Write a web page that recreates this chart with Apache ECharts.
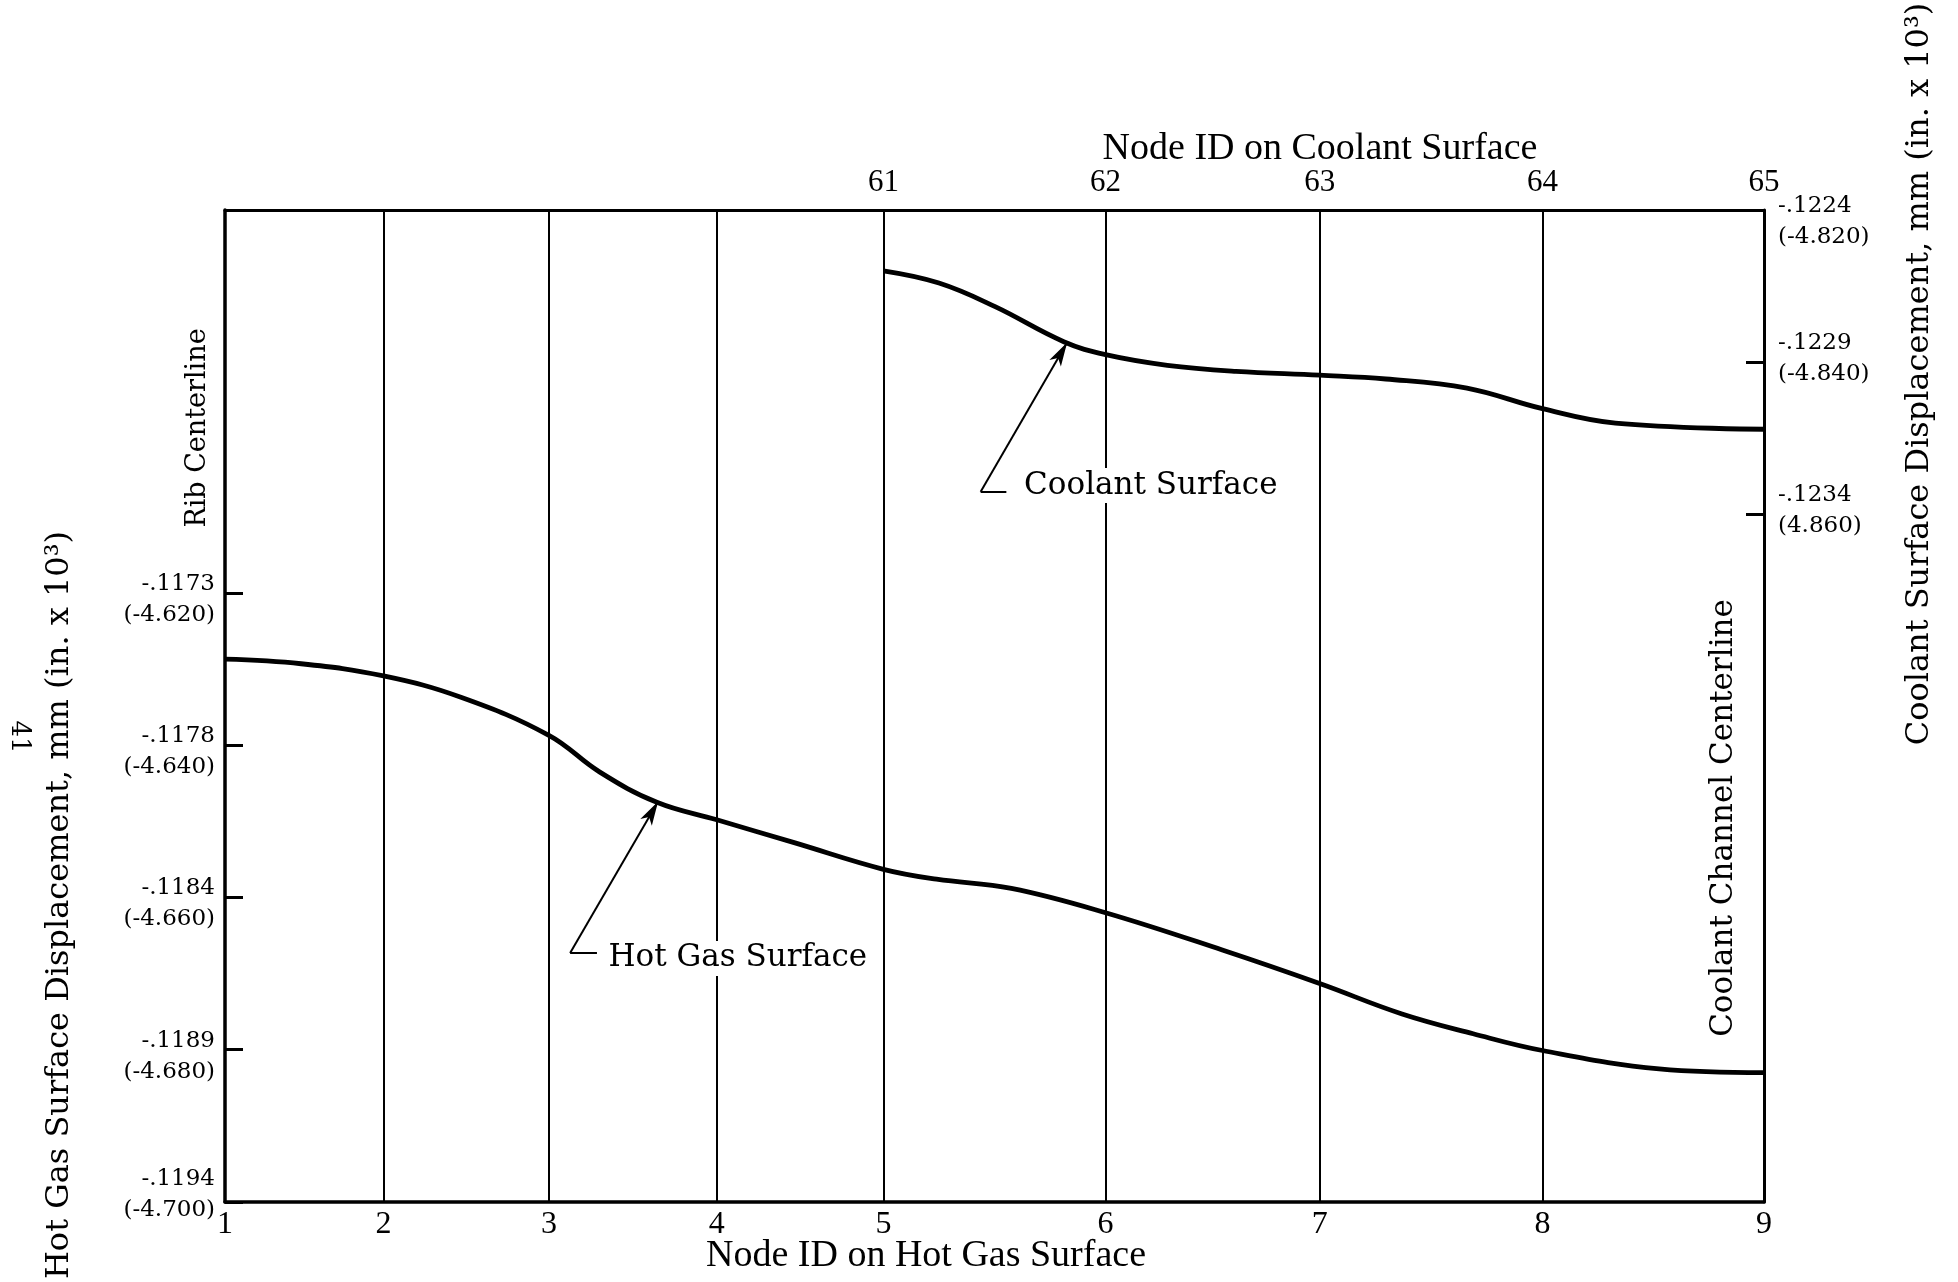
<!DOCTYPE html>
<html>
<head>
<meta charset="UTF-8"/>
<title>Surface displacement</title>
<script src="https://cdn.jsdelivr.net/npm/echarts@6.0.0/dist/echarts.min.js"></script>
<style>
html, body { margin:0; padding:0; background:#fff; }
#main { width:1958px; height:1282px; }
</style>
</head>
<body>
<div id="main"></div>
<script>
// node positions along the surface (drawing units, rib centerline = 0)
var nodeX = [0, 127, 259.5, 394, 527.5, 705.5, 877, 1055.5, 1233];
var hotNodes = ['1', '2', '3', '4', '5', '6', '7', '8', '9'];
var coolNodes = ['61', '62', '63', '64', '65']; // sit on nodeX[4..8]

// hot gas surface displacement, in. x 10^3
var hotX = [0, 61, 127, 189, 259.5, 300, 346, 394, 456, 527.5, 570, 630, 705.5, 799, 877, 943, 1000, 1055.5, 1149, 1233];
var hotY = [-4.6287, -4.6293, -4.6309, -4.6337, -4.6387, -4.6435, -4.6475, -4.6498, -4.6528, -4.6563,
            -4.6576, -4.6588, -4.6620, -4.6669, -4.6713, -4.6753, -4.6779, -4.6801, -4.6825, -4.6830];

// coolant surface displacement, in. x 10^3
var coolX = [527.5, 572, 617, 672, 705.5, 755, 810, 877, 930, 995, 1055.5, 1114, 1233];
var coolY = [-4.8280, -4.8296, -4.8327, -4.8373, -4.8390, -4.8404, -4.8412, -4.8417, -4.8422, -4.8434,
             -4.8461, -4.8480, -4.8488];

// tick labels: mm on top, inches x 10^3 in brackets
var hotTicks = [-4.700, -4.680, -4.660, -4.640, -4.620];
var hotTickMm = ['-.1194', '-.1189', '-.1184', '-.1178', '-.1173'];
var hotTickIn = ['(-4.700)', '(-4.680)', '(-4.660)', '(-4.640)', '(-4.620)'];
var coolTicks = [-4.820, -4.840, -4.860];
var coolTickMm = ['-.1224', '-.1229', '-.1234'];
var coolTickIn = ['(-4.820)', '(-4.840)', '(4.860)'];

function pairs(xs, ys) {
    var out = [];
    for (var i = 0; i < xs.length; i++) out.push([xs[i], ys[i]]);
    return out;
}
function findIdx(arr, v) {
    for (var i = 0; i < arr.length; i++) {
        if (Math.abs(arr[i] - v) < 1e-6) return i;
    }
    return -1;
}

var serifW = 'DejaVu Serif';
var serifN = 'Liberation Serif';
var black = '#000';

var myChart = echarts.init(document.getElementById('main'));

var option = {
    animation: false,
    backgroundColor: '#fff',
    grid: { left: 225, right: 194, top: 210, bottom: 80, containLabel: false },
    xAxis: [{
        type: 'value', position: 'bottom', min: 0, max: 1233,
        axisLine: { show: true, onZero: false, lineStyle: { color: black, width: 3.5 } },
        axisTick: { show: false },
        splitLine: { show: false },
        axisLabel: {
            customValues: nodeX, margin: 7,
            fontFamily: serifN, fontSize: 32, color: black,
            formatter: function (v) { var i = findIdx(nodeX, v); return i < 0 ? '' : hotNodes[i]; }
        }
    }, {
        type: 'value', position: 'top', min: 0, max: 1233,
        axisLine: { show: true, onZero: false, lineStyle: { color: black, width: 3 } },
        axisTick: { show: false },
        splitLine: { show: false },
        axisLabel: {
            customValues: nodeX.slice(4), margin: 12,
            fontFamily: serifN, fontSize: 31, color: black,
            formatter: function (v) { var i = findIdx(nodeX, v); return i < 4 ? '' : coolNodes[i - 4]; }
        }
    }],
    yAxis: [{
        type: 'value', position: 'left', min: -4.700, max: -4.5697,
        axisLine: { show: true, onZero: false, lineStyle: { color: black, width: 3.5 } },
        axisTick: { show: true, inside: true, length: 18, customValues: hotTicks, lineStyle: { color: black, width: 3 } },
        splitLine: { show: false },
        axisLabel: {
            customValues: hotTicks, margin: 10,
            fontFamily: serifW, fontSize: 23, lineHeight: 31, color: black, align: 'right',
            rich: { s: { fontSize: 2, lineHeight: 13 }, b: { fontSize: 2, lineHeight: 14 } },
            formatter: function (v) {
                var i = findIdx(hotTicks, v);
                if (i < 0) return '';
                if (i === 0) return hotTickMm[i] + '\n' + hotTickIn[i] + '\n{b| }';
                return '{s| }\n' + hotTickMm[i] + '\n' + hotTickIn[i];
            }
        }
    }, {
        type: 'value', position: 'right', min: -4.9503, max: -4.820,
        axisLine: { show: true, onZero: false, lineStyle: { color: black, width: 3 } },
        axisTick: { show: true, inside: true, length: 18, customValues: coolTicks.slice(1), lineStyle: { color: black, width: 3 } },
        splitLine: { show: false },
        axisLabel: {
            customValues: coolTicks, margin: 14,
            fontFamily: serifW, fontSize: 23, lineHeight: 31, color: black, align: 'left',
            rich: { t: { fontSize: 2, lineHeight: 8 } },
            formatter: function (v) {
                var i = findIdx(coolTicks, v);
                if (i < 0) return '';
                return (i === 0 ? '\n' : '') + coolTickMm[i] + '\n' + coolTickIn[i] + '\n{t| }';
            }
        }
    }],
    series: [{
        name: 'Hot Gas Surface',
        type: 'line', xAxisIndex: 0, yAxisIndex: 0,
        data: pairs(hotX, hotY),
        smooth: 0.4,
        showSymbol: false, silent: true,
        lineStyle: { color: black, width: 4.8 },
        z: 4,
        markLine: {
            silent: true, symbol: ['none', 'none'], z: 3,
            label: { show: false },
            lineStyle: { color: black, width: 2, type: 'solid' },
            data: nodeX.slice(1, 8).map(function (v) { return { xAxis: v }; }).concat([
                [{ coord: [276.5, -4.6673] }, { coord: [347, -4.6474], symbol: 'arrow', symbolSize: [10, 24] }],
                [{ coord: [276.5, -4.6673] }, { coord: [298, -4.6673] }]
            ])
        },
        markPoint: {
            silent: true, symbol: 'circle', symbolSize: 0, z: 6,
            label: {
                show: true, position: 'right', distance: 0, color: black,
                fontFamily: serifW, fontSize: 31, backgroundColor: '#fff', padding: [2, 4]
            },
            data: [{ coord: [304, -4.6680], label: { formatter: 'Hot Gas Surface' } }]
        }
    }, {
        name: 'Coolant Surface',
        type: 'line', xAxisIndex: 0, yAxisIndex: 1,
        data: pairs(coolX, coolY),
        smooth: 0.4,
        showSymbol: false, silent: true,
        lineStyle: { color: black, width: 4.8 },
        z: 4,
        markLine: {
            silent: true, symbol: ['none', 'none'], z: 3,
            label: { show: false },
            lineStyle: { color: black, width: 2, type: 'solid' },
            data: [
                [{ coord: [605.4, -4.8570] }, { coord: [674.7, -4.8374], symbol: 'arrow', symbolSize: [10, 24] }],
                [{ coord: [605.4, -4.8570] }, { coord: [626, -4.8570] }]
            ]
        },
        markPoint: {
            silent: true, symbol: 'circle', symbolSize: 0, z: 6,
            label: {
                show: true, position: 'right', distance: 0, color: black,
                fontFamily: serifW, fontSize: 31, backgroundColor: '#fff', padding: [2, 4]
            },
            data: [{ coord: [637, -4.8562], label: { formatter: 'Coolant Surface' } }]
        }
    }],
    graphic: [
        { type: 'text', x: 926, y: 1256, silent: true,
          style: { text: 'Node ID on Hot Gas Surface', fontFamily: serifN, fontSize: 38, fill: black, align: 'center', verticalAlign: 'middle' } },
        { type: 'text', x: 1320, y: 149, silent: true,
          style: { text: 'Node ID on Coolant Surface', fontFamily: serifN, fontSize: 38, fill: black, align: 'center', verticalAlign: 'middle' } },
        { type: 'text', x: 60, y: 905, rotation: Math.PI / 2, silent: true,
          style: { text: 'Hot Gas Surface Displacement, mm (in. x 10³)', fontFamily: serifW, fontSize: 32, fill: black, align: 'center', verticalAlign: 'middle' } },
        { type: 'text', x: 1920, y: 374, rotation: Math.PI / 2, silent: true,
          style: { text: 'Coolant Surface Displacement, mm (in. x 10³)', fontFamily: serifW, fontSize: 32, fill: black, align: 'center', verticalAlign: 'middle' } },
        { type: 'text', x: 19, y: 737, rotation: -Math.PI / 2, silent: true,
          style: { text: '41', fontFamily: serifW, fontSize: 26, fill: black, align: 'center', verticalAlign: 'middle' } },
        { type: 'text', x: 198, y: 428, rotation: Math.PI / 2, silent: true,
          style: { text: 'Rib Centerline', fontFamily: serifW, fontSize: 27, fill: black, align: 'center', verticalAlign: 'middle' } },
        { type: 'text', x: 1724, y: 818, rotation: Math.PI / 2, silent: true,
          style: { text: 'Coolant Channel Centerline', fontFamily: serifW, fontSize: 31, fill: black, align: 'center', verticalAlign: 'middle' } }
    ]
};

if (option && typeof option === 'object') {
    myChart.setOption(option, true);
}
</script>
</body>
</html>
